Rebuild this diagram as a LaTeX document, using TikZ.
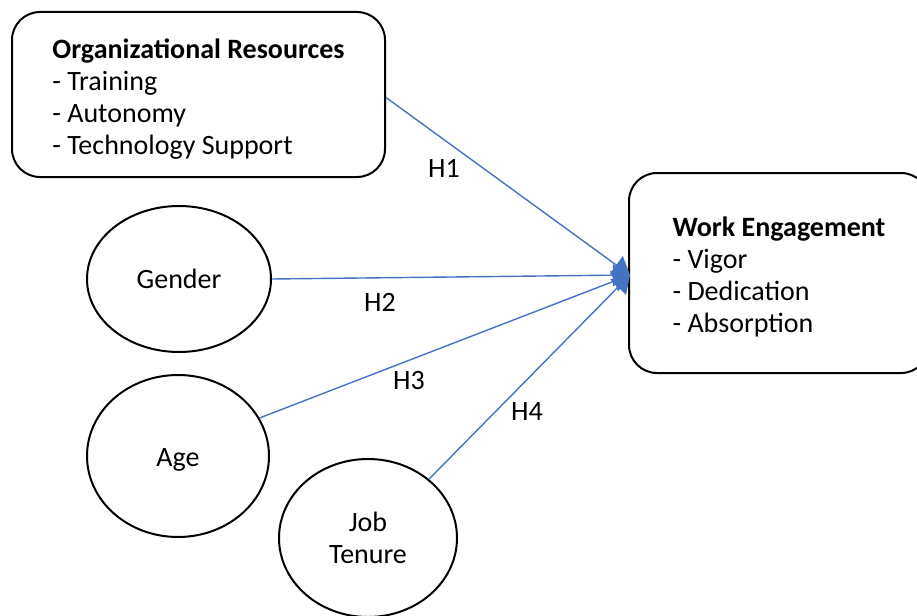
\documentclass[tikz,border=0pt]{standalone}
\usepackage{fontspec}
\setmainfont{Carlito}
\usetikzlibrary{shapes.geometric,arrows.meta,calc}
\definecolor{linkblue}{HTML}{4472C4}
\newcommand{\topstrut}{\rule{0pt}{28pt}}
\tikzset{
  concept/.style={draw=black, line width=2pt, rounded corners=28pt, align=left,
    font=\fontsize{28}{32}\selectfont, inner sep=0pt},
  factor/.style={draw=black, line width=2pt, ellipse, inner sep=0pt, align=center,
    font=\fontsize{28}{32}\selectfont},
  path/.style={draw=linkblue, line width=1.4pt,
    -{Triangle[length=17pt, width=22pt]}},
  hyp/.style={font=\fontsize{28}{30}\selectfont}
}
\begin{document}
\begin{tikzpicture}[x=1pt, y=-1pt]
  \clip (0,0) rectangle (917,615);

  % outcome and resource boxes
  \node[concept, minimum width=373pt, minimum height=165pt] (org) at (198.5,94.5)
    {\topstrut\textbf{Organizational Resources}\\- Training\\- Autonomy\\- Technology Support};
  \node[concept, minimum width=300pt, minimum height=200pt] (we) at (779,273)
    {\topstrut\textbf{Work Engagement}\\- Vigor\\- Dedication\\- Absorption};

  % control variables
  \node[factor, minimum width=184pt, minimum height=146pt] (gender) at (179,279) {Gender};
  \node[factor, minimum width=182pt, minimum height=162pt, text depth=0pt] (age) at (178,456) {\raisebox{-3pt}{Age}};
  \node[factor, minimum width=178pt, minimum height=158pt] (tenure) at (368,538) {Job\\Tenure};

  % common end point on the engagement box
  \coordinate (tip) at (630,275);

  % hypothesised paths
  \draw[path] ($(org.east)+(0,3)$) -- (tip);
  \draw[path] (gender.east) -- (tip);
  \draw[path] (age.25) -- (tip);
  \draw[path] (tenure.44) -- (tip);

  % hypothesis labels
  \node[hyp] (h1) at (444,168) {H1};
  \node[hyp] (h2) at (380,302) {H2};
  \node[hyp] (h3) at (409,381) {H3};
  \node[hyp] (h4) at (527,412) {H4};
\end{tikzpicture}
\end{document}
